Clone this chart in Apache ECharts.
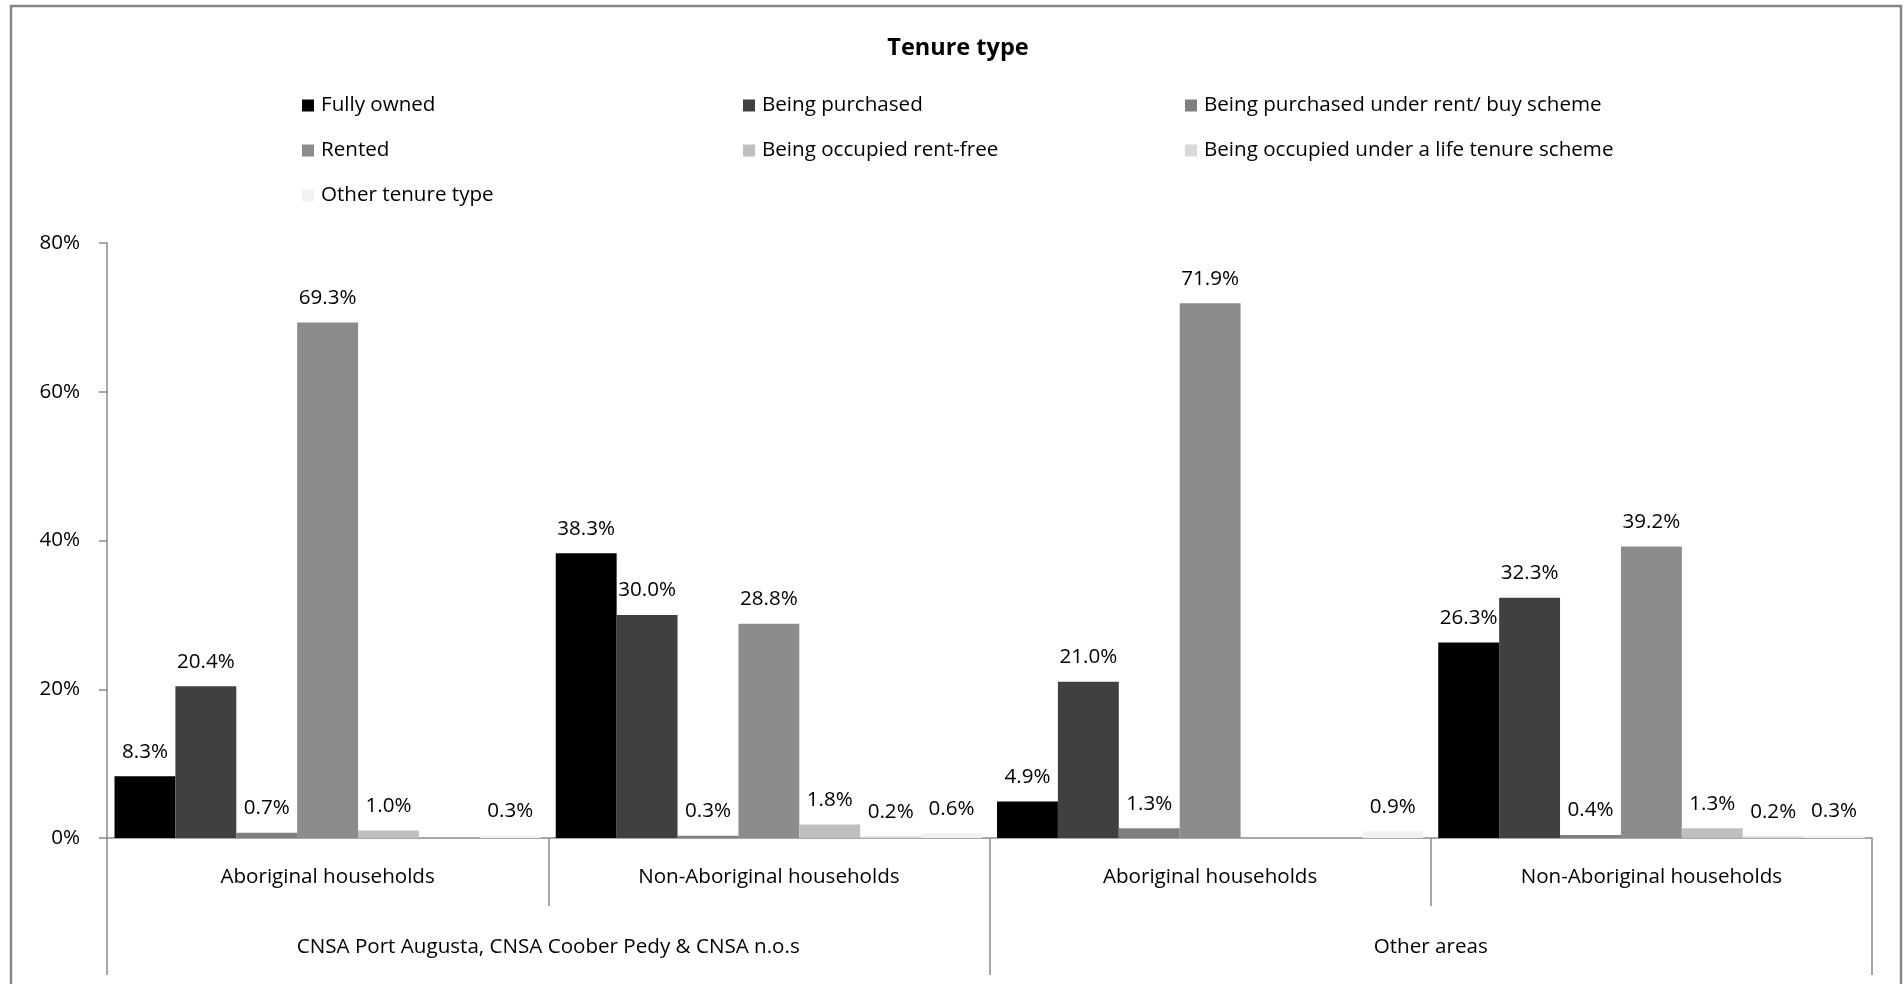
<!DOCTYPE html>
<html>
<head>
<meta charset="utf-8">
<title>Tenure type</title>
<script src="https://cdn.jsdelivr.net/npm/echarts@6/dist/echarts.min.js"></script>
<style>
  html, body { margin: 0; padding: 0; background: #fff; }
  #chart { width: 1904px; height: 984px; }
</style>
</head>
<body>
<div id="chart"></div>
<script>
// Household groups (inner axis) and areas (outer axis)
const groups = ['Aboriginal households', 'Non-Aboriginal households', 'Aboriginal households', 'Non-Aboriginal households'];
const areas = ['CNSA Port Augusta, CNSA Coober Pedy & CNSA n.o.s', 'Other areas'];

// Tenure types and their shares (%) per household group; null = not reported
const tenureTypes = ['Fully owned', 'Being purchased', 'Being purchased under rent/ buy scheme', 'Rented',
  'Being occupied rent-free', 'Being occupied under a life tenure scheme', 'Other tenure type'];
const fullyOwned = [8.3, 38.3, 4.9, 26.3];
const beingPurchased = [20.4, 30.0, 21.0, 32.3];
const rentBuy = [0.7, 0.3, 1.3, 0.4];
const rented = [69.3, 28.8, 71.9, 39.2];
const rentFree = [1.0, 1.8, null, 1.3];
const lifeTenure = [null, 0.2, null, 0.2];
const otherTenure = [0.3, 0.6, 0.9, 0.3];

const yTicks = [0, 20, 40, 60, 80];

const seriesValues = [fullyOwned, beingPurchased, rentBuy, rented, rentFree, lifeTenure, otherTenure];
const colors = ['#000000', '#404040', '#7f7f7f', '#8c8c8c', '#bfbfbf', '#d9d9d9', '#f2f2f2'];

const FONT = '"Open Sans", "Noto Sans", sans-serif';
const FS = 20.6;
const AXIS_GREY = '#8a8a8a';

const chart = echarts.init(document.getElementById('chart'), null, { renderer: 'canvas' });

const series = tenureTypes.map((name, i) => ({
  name: name,
  type: 'bar',
  xAxisIndex: 0,
  yAxisIndex: 0,
  barGap: '0%',
  barCategoryGap: '3.4%',
  data: seriesValues[i],
  itemStyle: { color: colors[i] },
  label: {
    show: true,
    position: 'top',
    distance: 14,
    color: '#000',
    fontFamily: FONT,
    fontSize: FS,
    formatter: p => (p.value == null ? '' : p.value.toFixed(1) + '%')
  },
  emphasis: { disabled: true },
  animation: false
}));

const legendBase = {
  orient: 'vertical',
  top: 94,
  padding: 0,
  itemWidth: 12,
  itemHeight: 12,
  itemGap: 22,
  icon: 'rect',
  selectedMode: false,
  textStyle: { fontFamily: FONT, fontSize: FS, color: '#000', lineHeight: 23, padding: [0, 0, 0, 2] }
};

const option = {
  backgroundColor: '#ffffff',
  animation: false,
  title: {
    text: 'Tenure type',
    left: 953,
    top: 31,
    textAlign: 'center',
    textStyle: { fontFamily: FONT, fontSize: 23.5, fontWeight: 'bold', color: '#000' }
  },
  legend: [
    Object.assign({}, legendBase, { left: 302, data: [tenureTypes[0], tenureTypes[3], tenureTypes[6]] }),
    Object.assign({}, legendBase, { left: 743, data: [tenureTypes[1], tenureTypes[4]] }),
    Object.assign({}, legendBase, { left: 1185, data: [tenureTypes[2], tenureTypes[5]] })
  ],
  grid: { left: 107, right: 32, top: 243, bottom: 146, containLabel: false },
  xAxis: [
    {
      type: 'category',
      data: groups,
      position: 'bottom',
      axisLine: { show: true, lineStyle: { color: AXIS_GREY, width: 1.5 } },
      axisTick: { show: true, length: 68, lineStyle: { color: AXIS_GREY, width: 1.5 } },
      axisLabel: { margin: 29, color: '#000', fontFamily: FONT, fontSize: FS },
      splitLine: { show: false }
    },
    {
      type: 'category',
      data: areas,
      position: 'bottom',
      axisLine: { show: false },
      axisTick: { show: true, length: 137, lineStyle: { color: AXIS_GREY, width: 1.5 } },
      axisLabel: { margin: 99, color: '#000', fontFamily: FONT, fontSize: FS },
      splitLine: { show: false }
    }
  ],
  yAxis: {
    type: 'value',
    min: yTicks[0],
    max: yTicks[yTicks.length - 1],
    interval: yTicks[1] - yTicks[0],
    axisLine: { show: true, lineStyle: { color: AXIS_GREY, width: 1.5 } },
    axisTick: { show: true, length: 8, lineStyle: { color: AXIS_GREY, width: 1.5 } },
    axisLabel: { margin: 27, color: '#000', fontFamily: FONT, fontSize: FS, formatter: v => v + '%' },
    splitLine: { show: false }
  },
  series: series,
  graphic: [
    {
      type: 'rect',
      shape: { x: 11, y: 6, width: 1890, height: 1000 },
      style: { fill: 'none', stroke: '#868686', lineWidth: 2.5 },
      silent: true,
      z: 100
    }
  ]
};

chart.setOption(option);
</script>
</body>
</html>
